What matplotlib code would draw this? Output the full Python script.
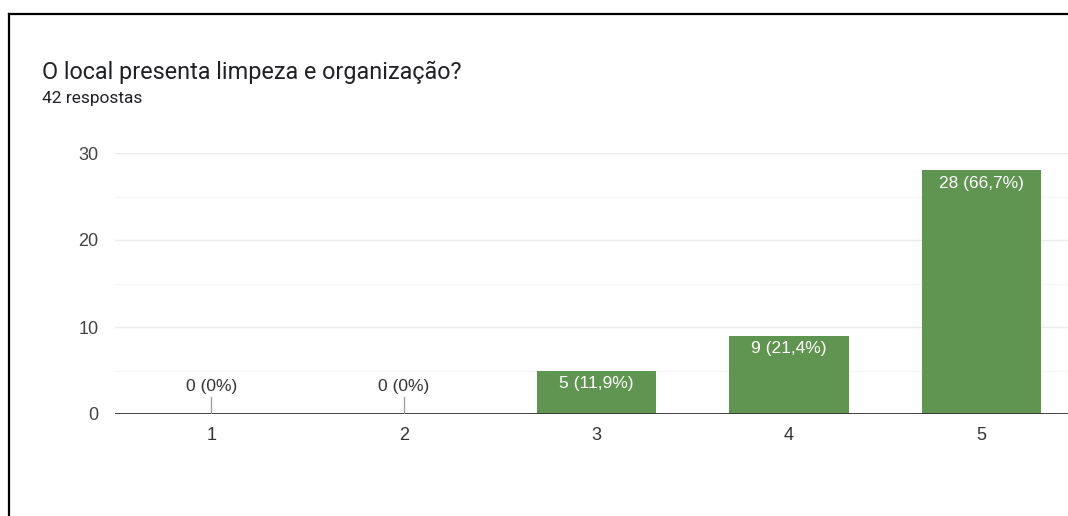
import matplotlib
matplotlib.use("Agg")
import matplotlib.pyplot as plt
from matplotlib.lines import Line2D

categories = ["1", "2", "3", "4", "5"]
counts = [0, 0, 5, 9, 28]
labels = ["0 (0%)", "0 (0%)", "5 (11,9%)", "9 (21,4%)", "28 (66,7%)"]
yticks = [0, 10, 20, 30]
title = "O local presenta limpeza e organização?"
subtitle = "42 respostas"

fig = plt.figure(figsize=(10.68, 5.16), dpi=100)
fig.patch.set_facecolor("white")
ax = fig.add_axes([115/1068, 102/516, 963/1068, 261/516])

x = list(range(1, len(categories) + 1))
ax.bar(x, counts, width=0.62, color="#5f9550", zorder=3)
ax.set_xlim(0.5, 5.5)
ax.set_ylim(0, 30)

for v in [5, 15, 25]:
    ax.axhline(v, color="#f5f5f5", lw=1, zorder=1)
for v in [10, 20, 30]:
    ax.axhline(v, color="#ebebeb", lw=1, zorder=1)
ax.axhline(0, color="#333333", lw=1.3, zorder=4)

for s in ax.spines.values():
    s.set_visible(False)
ax.set_yticks(yticks)
ax.set_yticklabels([str(t) for t in yticks], fontsize=13, color="#444444", family="Liberation Sans")
ax.set_xticks(x)
ax.set_xticklabels(categories, fontsize=13, color="#333333", family="Liberation Sans")
ax.tick_params(axis="both", length=0)
ax.tick_params(axis="y", pad=12)
ax.tick_params(axis="x", pad=9)

for xi, c, lab in zip(x, counts, labels):
    if c == 0:
        ax.plot([xi, xi], [0, 2.0], color="#999999", lw=0.9, zorder=4)
        ax.annotate(lab, (xi, 0), xytext=(0, 27), textcoords="offset pixels",
                    ha="center", va="center", fontsize=12.5, color="#333333",
                    family="Liberation Sans")
    else:
        ax.annotate(lab, (xi, c), xytext=(0, -13), textcoords="offset pixels",
                    ha="center", va="center", fontsize=12.5, color="white",
                    family="Liberation Sans", zorder=5)

fig.text(42/1068, 1 - 72/516, title, fontsize=16.8, color="#202124", family="Roboto",
         ha="left", va="center")
fig.text(42/1068, 1 - 98/516, subtitle, fontsize=12.5, color="#202124", family="Roboto",
         ha="left", va="center")

# frame lines (left and top)
fig.add_artist(Line2D([8.5/1068, 8.5/1068], [0, 1 - 14/516], transform=fig.transFigure,
                      color="black", lw=1.6))
fig.add_artist(Line2D([8.5/1068, 1], [1 - 14/516, 1 - 14/516], transform=fig.transFigure,
                      color="black", lw=1.6))

fig.savefig("out.png", dpi=100)
